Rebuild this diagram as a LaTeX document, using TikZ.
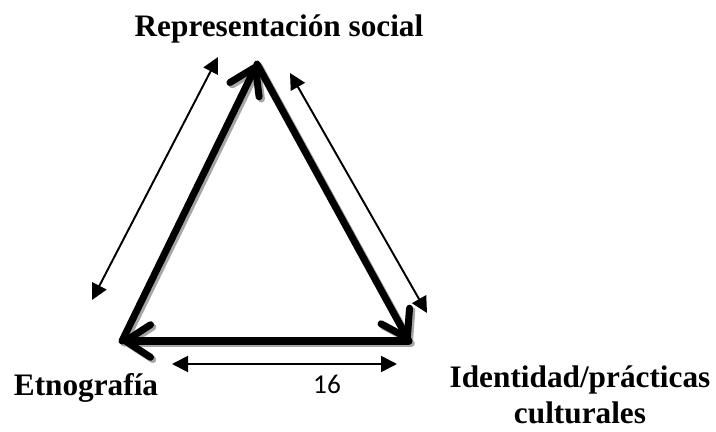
\documentclass[tikz,border=0pt]{standalone}
\usepackage{fontspec}
\setmainfont{Liberation Serif}
\newfontfamily\cifras{Carlito}
\usetikzlibrary{arrows.meta}

\begin{document}
\begin{tikzpicture}[x=0.02cm,y=-0.02cm,
    lado/.style={line width=4pt, line cap=round, -{Straight Barb[length=5mm,width=6.5mm,round]}},
    sombra/.style={lado, draw=black!35, transform canvas={xshift=1.3pt,yshift=-1.3pt}},
    cota/.style={line width=1.1pt, {Triangle[length=3.2mm,width=3.2mm]}-{Triangle[length=3.2mm,width=3.2mm]}},
    etiq/.style={font=\bfseries\fontsize{17.8}{17}\selectfont, inner sep=0pt, anchor=base}]

    \useasboundingbox (0,0) rectangle (716,432);

    % these are the corners of the triangle
    \coordinate (rs) at (257,64);
    \coordinate (et) at (122,341);
    \coordinate (id) at (409,341);

    % ends of the thin arrows
    \coordinate (a1) at (92,300);
    \coordinate (a2) at (218,57);
    \coordinate (b1) at (290,73);
    \coordinate (b2) at (427,313);
    \coordinate (c1) at (172,364);
    \coordinate (c2) at (397,364);

    % shadow, then the sides
    \draw[sombra] (et) -- (rs);
    \draw[sombra] (rs) -- (id);
    \draw[sombra] (id) -- (et);
    \draw[lado] (et) -- (rs);
    \draw[lado] (rs) -- (id);
    \draw[lado] (id) -- (et);

    \draw[cota] (a1) -- (a2);
    \draw[cota] (b1) -- (b2);
    \draw[cota] (c1) -- (c2);

    % labels
    \node[etiq] (nrs) at (279,37) {Representación social};
    \node[etiq] (net) at (86,395) {Etnografía};
    \node[etiq, align=center] (nid) at (580,423) {Identidad/prácticas\\[3pt]culturales};
    \node[inner sep=0pt, anchor=base, font=\cifras\fontsize{15.5}{16}\selectfont] (n16) at (327,393) {16};

\end{tikzpicture}
\end{document}
